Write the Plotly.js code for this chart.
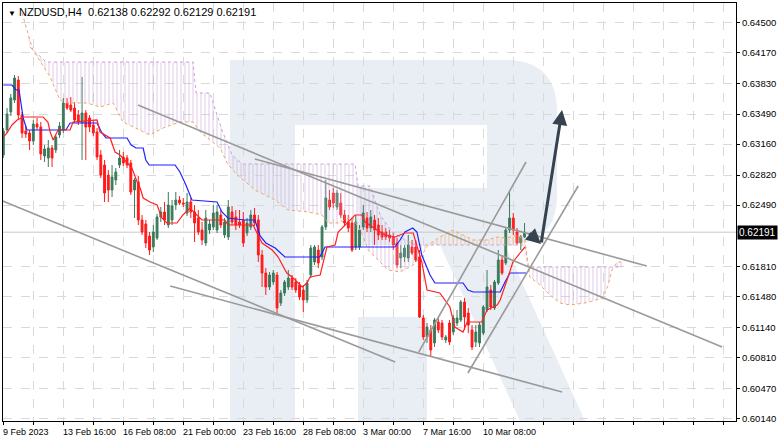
<!DOCTYPE html>
<html><head><meta charset="utf-8">
<script src="https://cdn.plot.ly/plotly-3.0.1.min.js"></script>
<style>html,body{margin:0;padding:0;background:#fff}#c{width:782px;height:442px}</style>
</head><body><div id="c"></div>
<script>
// ---- candles (NZDUSD H4), bar index 0 = 9 Feb 2023 00:00 ----
const open=[0.6304,0.63315,0.63513,0.63645,0.63865,0.6348,0.63304,0.63282,0.63194,0.63381,
0.63348,0.63029,0.63007,0.63117,0.63095,0.6326,0.63315,0.63612,0.6359,0.63557,
0.6348,0.63392,0.63502,0.63447,0.6337,0.63293,0.6304,0.6293,0.6282,0.62655,
0.62765,0.6293,0.63018,0.63007,0.62952,0.62655,0.62743,0.62325,0.62281,0.62149,
0.62028,0.62127,0.62358,0.62413,0.6227,0.62325,0.6249,0.62545,0.62512,0.62402,
0.62523,0.62413,0.62347,0.62215,0.62072,0.62215,0.62248,0.62215,0.6238,0.6216,
0.62138,0.62413,0.62358,0.62303,0.62325,0.62182,0.62248,0.6238,0.62325,0.6194,
0.61742,0.61588,0.61643,0.6172,0.61412,0.61522,0.61588,0.61687,0.61643,0.6161,
0.61555,0.61445,0.6172,0.61863,0.61995,0.61918,0.62248,0.62545,0.62622,0.62468,
0.62512,0.6238,0.62303,0.62292,0.62028,0.62028,0.62248,0.62347,0.62237,0.62325,
0.6227,0.62193,0.62193,0.6216,0.62138,0.62072,0.61907,0.61918,0.61907,0.62028,
0.62028,0.61918,0.61247,0.61038,0.61115,0.60972,0.61203,0.61192,0.61005,0.61192,
0.61093,0.61192,0.61225,0.61423,0.61302,0.61115,0.60983,0.60972,0.61082,0.61335,
0.61555,0.61357,0.61632,0.61885,0.61852,0.62215,0.62347,0.62193,0.62072,0.62138];
const high=[0.63337,0.63557,0.63711,0.6392,0.63909,0.63513,0.63359,0.63315,0.63425,0.63447,
0.63403,0.6315,0.63205,0.6315,0.6326,0.63403,0.63667,0.63667,0.63678,0.63623,
0.63535,0.63898,0.63535,0.6348,0.63425,0.63337,0.63095,0.62985,0.62875,0.6293,
0.62897,0.63095,0.63073,0.6304,0.62985,0.62787,0.62809,0.6238,0.62325,0.62193,
0.6227,0.62391,0.62468,0.62523,0.62633,0.62545,0.62633,0.62589,0.62567,0.62622,
0.62567,0.6249,0.62435,0.62303,0.62435,0.62325,0.6249,0.6249,0.62435,0.62347,
0.62545,0.62479,0.62435,0.62435,0.62413,0.62347,0.62435,0.62457,0.6238,0.61995,
0.61797,0.61753,0.61775,0.61753,0.61555,0.61665,0.61775,0.6172,0.61687,0.61643,
0.6161,0.61665,0.6205,0.6205,0.6205,0.6227,0.62765,0.62655,0.62677,0.62655,
0.62622,0.62435,0.6238,0.62347,0.6238,0.6227,0.6249,0.62413,0.62435,0.6238,
0.62347,0.6227,0.62237,0.62215,0.62182,0.62127,0.6205,0.6205,0.6216,0.62105,
0.62105,0.61995,0.6128,0.61192,0.6117,0.61247,0.61247,0.61225,0.6106,0.61225,
0.6128,0.61335,0.61445,0.61467,0.61357,0.6117,0.6117,0.61203,0.6139,0.61775,
0.6161,0.61665,0.61995,0.6194,0.62237,0.62655,0.62402,0.62237,0.6216,0.62292];
const low=[0.63007,0.63282,0.63469,0.63612,0.63425,0.63227,0.63227,0.63095,0.6315,0.63315,
0.62985,0.62963,0.62908,0.62908,0.63062,0.63227,0.63282,0.63535,0.63513,0.63392,
0.6337,0.62985,0.62985,0.63293,0.63249,0.62985,0.62787,0.62523,0.62523,0.62578,
0.6271,0.62897,0.62919,0.62897,0.626,0.62347,0.6227,0.6216,0.62017,0.6194,
0.61973,0.62105,0.62303,0.6227,0.62237,0.6227,0.62435,0.6249,0.62468,0.62369,
0.62347,0.62083,0.6216,0.6205,0.62039,0.62171,0.62215,0.62182,0.62237,0.62127,
0.62105,0.6227,0.62215,0.62237,0.62028,0.62149,0.62215,0.62259,0.61863,0.61588,
0.615,0.61555,0.6161,0.61302,0.61379,0.61489,0.61555,0.61555,0.61522,0.61445,
0.61313,0.61412,0.61687,0.6183,0.61797,0.61885,0.62215,0.62435,0.62457,0.62435,
0.62347,0.62259,0.62193,0.61973,0.61995,0.61995,0.62215,0.62193,0.62193,0.6205,
0.62105,0.62105,0.62105,0.62083,0.61995,0.61797,0.61797,0.61863,0.61863,0.6194,
0.61863,0.61247,0.61005,0.60972,0.60818,0.60928,0.61082,0.61005,0.60972,0.6095,
0.6106,0.61159,0.61203,0.61115,0.61082,0.60895,0.60928,0.60928,0.6106,0.61313,
0.61335,0.61335,0.6161,0.6172,0.6183,0.62182,0.6216,0.6205,0.61995,0.62129];
const close=[0.63304,0.63491,0.63667,0.63887,0.6348,0.63282,0.63271,0.63194,0.63381,0.63348,
0.63051,0.63106,0.63117,0.63007,0.63238,0.63359,0.63612,0.63557,0.63535,0.63425,
0.63403,0.63502,0.63348,0.63348,0.63282,0.63018,0.6282,0.62622,0.62655,0.62798,
0.62853,0.63007,0.62952,0.6293,0.62633,0.62765,0.62325,0.62193,0.62072,0.61995,
0.62193,0.62358,0.62413,0.62325,0.6249,0.62479,0.62545,0.62512,0.62501,0.62523,
0.62413,0.62292,0.62193,0.62105,0.62347,0.62281,0.62402,0.62413,0.6227,0.62303,
0.62468,0.62303,0.6227,0.6227,0.62072,0.62292,0.6238,0.62292,0.6194,0.61742,
0.61588,0.6172,0.61742,0.61357,0.61522,0.61643,0.61687,0.61588,0.61555,0.61478,
0.61445,0.61632,0.62017,0.62028,0.61852,0.62248,0.62567,0.62468,0.62512,0.62622,
0.6238,0.62292,0.62237,0.61995,0.62303,0.62215,0.62402,0.62237,0.62358,0.62215,
0.6216,0.62138,0.62138,0.62127,0.6205,0.6183,0.61962,0.62017,0.6205,0.61962,
0.61885,0.61258,0.61038,0.61148,0.60895,0.61225,0.61115,0.61038,0.61038,0.60983,
0.61247,0.61247,0.61423,0.61258,0.6117,0.60928,0.61093,0.6117,0.61368,0.61588,
0.61368,0.61643,0.61885,0.61742,0.62215,0.62347,0.62215,0.62072,0.62138,0.62191];
const bars=open.map((_,i)=>i);

// ---- Ichimoku lines: bar index / price ----
const tenkanX=[0,1,2.3,3.7,5.3,10.6,11.9,12.5,13.3,14.3,14.6,17.8,18.6,25,25.8,28.5,29.8,31.1,34.3,35.7,36.5,37.3,39.1,41,42.3,43.6,46.3,47.9,49.8,51.6,53,59.1,59.9,66.6,69,71.7,73.3,75.6,77,79.7,81,81.8,84.5,86.3,88.5,89.3,91.7,93.8,95.6,96.5,99.7,101.8,104.5,107.1,109.3,110.6,111.6,113,116.4,119.1,120.4,122.6,123.7,127.6,129,131.7,132.5,134.6,135.9,137.8,139.1];
const tenkanY=[0.63238,0.63282,0.6337,0.63425,0.63458,0.63458,0.63403,0.63293,0.63205,0.63282,0.63315,0.63315,0.63403,0.63425,0.63293,0.63227,0.63073,0.6304,0.62897,0.62743,0.62677,0.62567,0.62523,0.6249,0.62347,0.62292,0.62292,0.6238,0.62457,0.6238,0.62325,0.62325,0.6227,0.6227,0.62072,0.61995,0.61918,0.61742,0.61698,0.61588,0.61632,0.61698,0.6172,0.62028,0.6205,0.62193,0.62292,0.6238,0.6238,0.62303,0.62215,0.6216,0.62138,0.62182,0.62182,0.61995,0.61863,0.61555,0.61522,0.61368,0.61148,0.61093,0.61203,0.61203,0.61335,0.6139,0.61445,0.61698,0.61863,0.61962,0.62028];
const kijunX=[0,2.3,3.4,4.2,5.3,6.3,16.7,17.8,25,26.3,27.4,33,34.1,35.4,37.3,38,38.9,45.8,47.1,48.7,50.3,57,58.3,59.9,64.4,67.1,68.5,70,72.5,75.1,84.4,85.8,104.4,105.8,107.1,109.2,110.3,111.6,113.8,115.1,122.6,123.9,125.3,132.5,133.8,135.1,139.4];
const kijunY=[0.6381,0.6381,0.63755,0.63755,0.63447,0.63315,0.63315,0.63392,0.63392,0.63282,0.63227,0.63227,0.6315,0.63117,0.63117,0.62985,0.6293,0.6293,0.62853,0.6271,0.62545,0.62523,0.62413,0.62347,0.62325,0.62325,0.62149,0.62072,0.62017,0.61918,0.61918,0.62028,0.62028,0.62105,0.62193,0.62237,0.62193,0.6194,0.6172,0.61632,0.61632,0.61555,0.61533,0.61533,0.61643,0.61742,0.61742];
const spanAX=[5,7.9,12.5,15.1,17,22.3,25.8,29.3,31.9,39.1,42.6,47.1,50.6,52.5,55.1,57.8,59.7,62.3,65,67.1,72.5,75.9,81.3,85,86.6,89.3,93,95.6,97.3,99.1,102.6,105.8,109.3,111.1,113.3,116.4,118.3,119.9,122.6,125.3,129,131.7,134.3,137,139.1,140.4,143.1,145.8,148.5,151.1,155.1,157.8,159.9,161.3,162.3,163.7,165];
const spanAY=[0.64602,0.64195,0.63898,0.63645,0.63612,0.63612,0.63568,0.63612,0.63403,0.6326,0.63337,0.63403,0.63403,0.63293,0.63205,0.63117,0.62952,0.6282,0.62732,0.62655,0.62545,0.62435,0.62413,0.6238,0.62292,0.62292,0.62358,0.62182,0.61995,0.61918,0.61775,0.61753,0.6183,0.61907,0.6205,0.62138,0.62182,0.62215,0.6216,0.62105,0.62105,0.62138,0.62127,0.6216,0.62105,0.61698,0.6161,0.615,0.61412,0.6139,0.61412,0.61445,0.61467,0.6161,0.61775,0.61863,0.61863];
const spanBX=[7.1,11.4,50.6,51.4,55.1,58.3,61,63.7,93.8,94.6,97.8,100.5,103.7,107.1,109.8,139.1,139.9,162.3,165];
const spanBY=[0.64228,0.64063,0.64063,0.63722,0.63722,0.63315,0.6304,0.62941,0.62941,0.62699,0.62699,0.6238,0.62193,0.62105,0.6205,0.6205,0.61808,0.61808,0.61808];

// ---- drawn objects (bar index / price) ----
const trendLines=[
  [-0.88,0.62545,104.5,0.60763],
  [44.5,0.61599,149,0.60433],
  [67.1,0.62997,171.6,0.61819],
  [35.9,0.6359,191.7,0.60928],
  [110.8,0.60873,139.4,0.62963],
  [123.9,0.60642,153.3,0.62699]
];
const arrowPts=[[139.9,0.62193],[143.4,0.62061],[149,0.63535]];

// ---- axes ----
const xTickBars=[0,16,32,48,64,80,96,112,128];
const xTickLabels=['9 Feb 2023','13 Feb 16:00','16 Feb 08:00','21 Feb 00:00','23 Feb 16:00','28 Feb 08:00','3 Mar 00:00','7 Mar 16:00','10 Mar 08:00'];
const yTickVals=[0.645,0.6417,0.6383,0.6349,0.6316,0.6282,0.6249,0.6181,0.6148,0.6114,0.6081,0.6047,0.6014];
const lastPrice=0.62191;
const header='NZDUSD,H4  0.62138 0.62292 0.62129 0.62191';

const gridVals=[];
for(let b=0;b<=200;b+=8){gridVals.push(b);}

// cloud polygons
function poly(x0,x1){
  const xs=[],ys=[];
  spanAX.forEach((x,i)=>{if(x>=x0&&x<=x1){xs.push(x);ys.push(spanAY[i]);}});
  for(let i=spanBX.length-1;i>=0;i--){const x=spanBX[i];if(x>=x0-3.6&&x<=x1){xs.push(x);ys.push(spanBY[i]);}}
  return {xs,ys};
}
const segs=[[0,113.3,'rgb(200,160,215)'],[113.3,139.1,'rgb(244,164,96)'],[139.9,170,'rgb(200,160,215)']];
const traces=[];
segs.forEach(s=>{
  const p=poly(s[0],s[1]);
  traces.push({type:'scatter',mode:'none',x:p.xs,y:p.ys,fill:'toself',fillcolor:'rgba(0,0,0,0)',
    fillpattern:{shape:'|',fgcolor:s[2],bgcolor:'rgba(255,255,255,0)',size:4,solidity:0.18,fgopacity:0.8},
    hoverinfo:'skip',showlegend:false});
});
traces.push({type:'scatter',mode:'lines',x:spanBX,y:spanBY,line:{color:'rgb(200,160,215)',width:1,dash:'dot'},hoverinfo:'skip'});
traces.push({type:'scatter',mode:'lines',x:spanAX,y:spanAY,line:{color:'rgb(244,164,96)',width:1,dash:'dot'},hoverinfo:'skip'});
traces.push({type:'candlestick',x:bars,open:open,high:high,low:low,close:close,whiskerwidth:0,
  increasing:{line:{color:'#3b7a5c',width:1},fillcolor:'#3b7a5c'},
  decreasing:{line:{color:'#ff1a1a',width:1},fillcolor:'#ff1a1a'},hoverinfo:'skip'});
traces.push({type:'scatter',mode:'lines',x:kijunX,y:kijunY,line:{color:'#2020ff',width:1.2},hoverinfo:'skip'});
traces.push({type:'scatter',mode:'lines',x:tenkanX,y:tenkanY,line:{color:'#ff2020',width:1.2},hoverinfo:'skip'});

// watermark "R" in pixel space -> paper
const L=3,T=3,W=733,H=418;
function P(x,y){return ((x-L)/W).toFixed(4)+','+(1-(y-T)/H).toFixed(4);}
const wm='#e9eef4';
const shapes=[];
function rect(x0,y0,x1,y1){shapes.push({type:'path',xref:'paper',yref:'paper',layer:'below',fillcolor:wm,line:{width:0},
  path:`M${P(x0,y0)} L${P(x1,y0)} L${P(x1,y1)} L${P(x0,y1)} Z`});}
rect(230,60,295,421);
rect(295,60,490,125);
shapes.push({type:'path',xref:'paper',yref:'paper',layer:'below',fillcolor:wm,line:{width:0},
  path:`M${P(487,60)} L${P(505,60)} Q${P(557,60)} ${P(557,112)} L${P(557,195)} Q${P(557,245)} ${P(505,245)} L${P(358,245)} L${P(358,188)} L${P(487,188)} Z`});
rect(358,317,427,421);
shapes.push({type:'path',xref:'paper',yref:'paper',layer:'below',fillcolor:wm,line:{width:0},
  path:`M${P(440,245)} L${P(505,245)} L${P(585,421)} L${P(520,421)} Z`});

// last price line
shapes.push({type:'line',xref:'paper',yref:'y',x0:0,x1:1,y0:lastPrice,y1:lastPrice,layer:'below',line:{color:'#c8c8c8',width:1}});
// trend lines
trendLines.forEach(t=>shapes.push({type:'line',xref:'x',yref:'y',x0:t[0],y0:t[1],x1:t[2],y1:t[3],layer:'above',line:{color:'#9a9a9a',width:1.6}}));

const annotations=[
  {xref:'paper',yref:'paper',x:0,y:1,xanchor:'left',yanchor:'top',xshift:3,yshift:-1,showarrow:false,align:'left',
   text:'<span style="font-size:8px">▼</span> '+header,font:{family:'Liberation Sans, Arial, sans-serif',size:11,color:'#000'}},
  {xref:'paper',yref:'y',x:1,y:lastPrice,xanchor:'left',yanchor:'middle',xshift:1,showarrow:false,bgcolor:'#000',borderpad:1,
   text:lastPrice.toFixed(5),font:{family:'Liberation Sans, Arial, sans-serif',size:10,color:'#fff'}},
  {xref:'x',yref:'y',axref:'x',ayref:'y',x:arrowPts[1][0],y:arrowPts[1][1],ax:arrowPts[0][0],ay:arrowPts[0][1],
   showarrow:true,arrowhead:2,arrowsize:1,arrowwidth:3,arrowcolor:'#34434f',text:''},
  {xref:'x',yref:'y',axref:'x',ayref:'y',x:arrowPts[2][0],y:arrowPts[2][1],ax:arrowPts[1][0],ay:arrowPts[1][1],
   showarrow:true,arrowhead:2,arrowsize:1,arrowwidth:3,arrowcolor:'#34434f',text:''}
];
// x labels, left-aligned at their bar
xTickBars.forEach((b,k)=>annotations.push({xref:'x',yref:'paper',x:b,y:0,xanchor:'left',yanchor:'top',yshift:-4,xshift:-2,
  showarrow:false,text:xTickLabels[k],font:{family:'Liberation Sans, Arial, sans-serif',size:9,color:'#000'}}));

const layout={
  width:782,height:442,margin:{l:3,r:46,t:3,b:21},paper_bgcolor:'#fff',plot_bgcolor:'#fff',
  showlegend:false,dragmode:false,
  font:{family:'Liberation Sans, Arial, sans-serif',size:10,color:'#000'},
  xaxis:{range:[-0.08,195.39],tickmode:'array',tickvals:gridVals,ticktext:gridVals.map(()=>''),ticks:'outside',ticklen:3,tickcolor:'#000',
    showgrid:true,gridcolor:'#d9d9d9',griddash:'dash',gridwidth:1,
    showline:true,linecolor:'#000',linewidth:1,mirror:true,zeroline:false,rangeslider:{visible:false},fixedrange:true},
  yaxis:{range:[0.60114,0.64712],side:'right',tickmode:'array',tickvals:yTickVals,ticktext:yTickVals.map(v=>v.toFixed(5)),
    ticks:'outside',ticklen:3,tickcolor:'#000',tickfont:{size:9.5},showgrid:true,gridcolor:'#d9d9d9',griddash:'dash',gridwidth:1,
    showline:true,linecolor:'#000',linewidth:1,mirror:true,zeroline:false,fixedrange:true},
  shapes:shapes,annotations:annotations
};
Plotly.newPlot('c',traces,layout,{staticPlot:true,displayModeBar:false});
</script></body></html>
